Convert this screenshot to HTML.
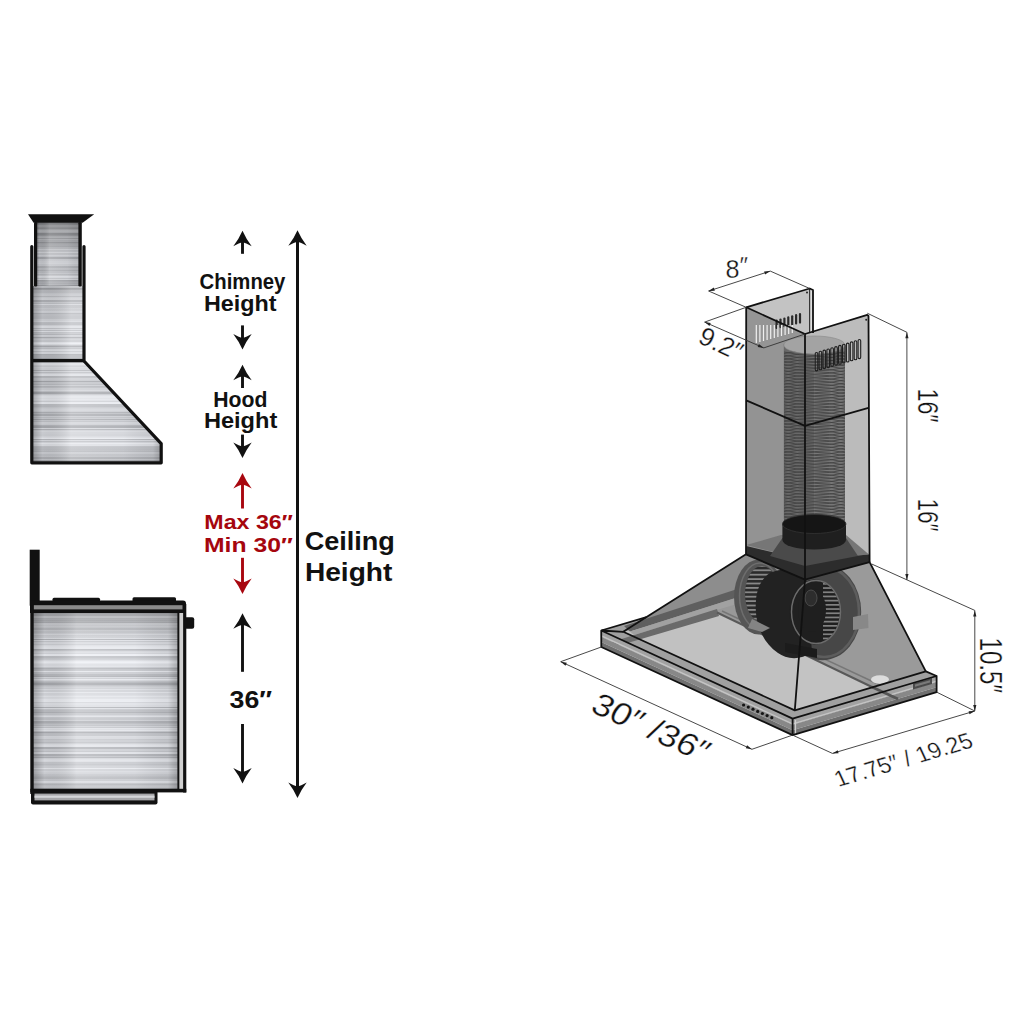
<!DOCTYPE html><html><head><meta charset="utf-8"><style>
html,body{margin:0;padding:0;background:#fff;width:1024px;height:1024px;overflow:hidden}
svg{display:block}
text{font-family:"Liberation Sans",sans-serif}
.lb{font-weight:bold;fill:#111}
.rd{font-weight:bold;fill:#a5060e}
.dm{fill:#111;font-weight:normal;stroke:#fff;stroke-width:0.3px}
</style></head><body>
<svg width="1024" height="1024" viewBox="0 0 1024 1024">
<defs>
<linearGradient id="hg" x1="0" x2="1" y1="0" y2="0">
<stop offset="0" stop-color="#000" stop-opacity="0.28"/>
<stop offset="0.08" stop-color="#000" stop-opacity="0.05"/>
<stop offset="0.3" stop-color="#fff" stop-opacity="0.22"/>
<stop offset="0.7" stop-color="#fff" stop-opacity="0.08"/>
<stop offset="0.93" stop-color="#000" stop-opacity="0.06"/>
<stop offset="1" stop-color="#000" stop-opacity="0.25"/>
</linearGradient>
<linearGradient id="vg2" x1="0" x2="0" y1="0" y2="1">
<stop offset="0" stop-color="#000" stop-opacity="0.3"/>
<stop offset="0.6" stop-color="#000" stop-opacity="0.0"/>
<stop offset="1" stop-color="#000" stop-opacity="0.05"/>
</linearGradient>
<linearGradient id="vg" x1="0" x2="0" y1="0" y2="1">
<stop offset="0" stop-color="#000" stop-opacity="0.22"/>
<stop offset="0.15" stop-color="#000" stop-opacity="0.0"/>
<stop offset="0.9" stop-color="#000" stop-opacity="0.0"/>
<stop offset="1" stop-color="#000" stop-opacity="0.12"/>
</linearGradient>
<clipPath id="hoodclip"><path d="M32,286 L32,462.8 L161.4,462.8 L161.4,443.3 L84,360.5 L84,286 Z"/></clipPath>
</defs>
<rect width="1024" height="1024" fill="#fff"/>

<g><rect x="36" y="222.0" width="45" height="1" fill="rgb(196,198,203)"/><rect x="36" y="223.0" width="45" height="1" fill="rgb(163,165,170)"/><rect x="36" y="224.0" width="45" height="1" fill="rgb(177,179,184)"/><rect x="36" y="225.0" width="45" height="1" fill="rgb(202,204,209)"/><rect x="36" y="226.0" width="45" height="1" fill="rgb(201,203,208)"/><rect x="36" y="227.0" width="45" height="1" fill="rgb(185,187,192)"/><rect x="36" y="228.0" width="45" height="1" fill="rgb(175,177,182)"/><rect x="36" y="229.0" width="45" height="1" fill="rgb(201,203,208)"/><rect x="36" y="230.0" width="45" height="2" fill="rgb(219,221,226)"/><rect x="36" y="232.0" width="45" height="1" fill="rgb(205,207,212)"/><rect x="36" y="233.0" width="45" height="2" fill="rgb(165,167,172)"/><rect x="36" y="235.0" width="45" height="1" fill="rgb(177,179,184)"/><rect x="36" y="236.0" width="45" height="1" fill="rgb(200,202,207)"/><rect x="36" y="237.0" width="45" height="1" fill="rgb(205,207,212)"/><rect x="36" y="238.0" width="45" height="1" fill="rgb(175,177,182)"/><rect x="36" y="239.0" width="45" height="1" fill="rgb(205,207,212)"/><rect x="36" y="240.0" width="45" height="2" fill="rgb(191,193,198)"/><rect x="36" y="242.0" width="45" height="1" fill="rgb(163,165,170)"/><rect x="36" y="243.0" width="45" height="1" fill="rgb(181,183,188)"/><rect x="36" y="244.0" width="45" height="2" fill="rgb(186,188,193)"/><rect x="36" y="246.0" width="45" height="1" fill="rgb(178,180,185)"/><rect x="36" y="247.0" width="45" height="2" fill="rgb(194,196,201)"/><rect x="36" y="249.0" width="45" height="1" fill="rgb(215,217,222)"/><rect x="36" y="250.0" width="45" height="1" fill="rgb(197,199,204)"/><rect x="36" y="251.0" width="45" height="1" fill="rgb(199,201,206)"/><rect x="36" y="252.0" width="45" height="1" fill="rgb(217,219,224)"/><rect x="36" y="253.0" width="45" height="2" fill="rgb(194,196,201)"/><rect x="36" y="255.0" width="45" height="1" fill="rgb(209,211,216)"/><rect x="36" y="256.0" width="45" height="1" fill="rgb(196,198,203)"/><rect x="36" y="257.0" width="45" height="2" fill="rgb(163,165,170)"/><rect x="36" y="259.0" width="45" height="2" fill="rgb(194,196,201)"/><rect x="36" y="261.0" width="45" height="2" fill="rgb(198,200,205)"/><rect x="36" y="263.0" width="45" height="1" fill="rgb(202,204,209)"/><rect x="36" y="264.0" width="45" height="2" fill="rgb(193,195,200)"/><rect x="36" y="266.0" width="45" height="2" fill="rgb(170,172,177)"/><rect x="36" y="268.0" width="45" height="1" fill="rgb(186,188,193)"/><rect x="36" y="269.0" width="45" height="1" fill="rgb(185,187,192)"/><rect x="36" y="270.0" width="45" height="1" fill="rgb(172,174,179)"/><rect x="36" y="271.0" width="45" height="2" fill="rgb(187,189,194)"/><rect x="36" y="273.0" width="45" height="1" fill="rgb(198,200,205)"/><rect x="36" y="274.0" width="45" height="1" fill="rgb(182,184,189)"/><rect x="36" y="275.0" width="45" height="1" fill="rgb(196,198,203)"/><rect x="36" y="276.0" width="45" height="1" fill="rgb(219,221,226)"/><rect x="36" y="277.0" width="45" height="1" fill="rgb(214,216,221)"/><rect x="36" y="278.0" width="45" height="1" fill="rgb(190,192,197)"/><rect x="36" y="279.0" width="45" height="1" fill="rgb(213,215,220)"/><rect x="36" y="280.0" width="45" height="1" fill="rgb(162,164,169)"/><rect x="36" y="281.0" width="45" height="1" fill="rgb(171,173,178)"/><rect x="36" y="282.0" width="45" height="1" fill="rgb(177,179,184)"/><rect x="36" y="283.0" width="45" height="1" fill="rgb(173,175,180)"/><rect x="36" y="284.0" width="45" height="1" fill="rgb(182,184,189)"/><rect x="36" y="285.0" width="45" height="1" fill="rgb(155,157,162)"/><rect x="36" y="286.0" width="45" height="2" fill="rgb(193,195,200)"/><rect x="36" y="222" width="45" height="66" fill="url(#hg)"/><rect x="36" y="222" width="45" height="66" fill="url(#vg2)"/></g>
<g clip-path="url(#hoodclip)"><rect x="32" y="286.0" width="130" height="1" fill="rgb(219,221,226)"/><rect x="32" y="287.0" width="130" height="1" fill="rgb(212,214,219)"/><rect x="32" y="288.0" width="130" height="1" fill="rgb(170,172,177)"/><rect x="32" y="289.0" width="130" height="1" fill="rgb(180,182,187)"/><rect x="32" y="290.0" width="130" height="1" fill="rgb(204,206,211)"/><rect x="32" y="291.0" width="130" height="2" fill="rgb(203,205,210)"/><rect x="32" y="293.0" width="130" height="1" fill="rgb(215,217,222)"/><rect x="32" y="294.0" width="130" height="1" fill="rgb(219,221,226)"/><rect x="32" y="295.0" width="130" height="1" fill="rgb(219,221,226)"/><rect x="32" y="296.0" width="130" height="1" fill="rgb(197,199,204)"/><rect x="32" y="297.0" width="130" height="1" fill="rgb(218,220,225)"/><rect x="32" y="298.0" width="130" height="2" fill="rgb(223,225,230)"/><rect x="32" y="300.0" width="130" height="2" fill="rgb(185,187,192)"/><rect x="32" y="302.0" width="130" height="1" fill="rgb(210,212,217)"/><rect x="32" y="303.0" width="130" height="1" fill="rgb(198,200,205)"/><rect x="32" y="304.0" width="130" height="1" fill="rgb(226,228,233)"/><rect x="32" y="305.0" width="130" height="1" fill="rgb(200,202,207)"/><rect x="32" y="306.0" width="130" height="1" fill="rgb(200,202,207)"/><rect x="32" y="307.0" width="130" height="1" fill="rgb(199,201,206)"/><rect x="32" y="308.0" width="130" height="1" fill="rgb(208,210,215)"/><rect x="32" y="309.0" width="130" height="2" fill="rgb(202,204,209)"/><rect x="32" y="311.0" width="130" height="1" fill="rgb(212,214,219)"/><rect x="32" y="312.0" width="130" height="1" fill="rgb(208,210,215)"/><rect x="32" y="313.0" width="130" height="1" fill="rgb(182,184,189)"/><rect x="32" y="314.0" width="130" height="2" fill="rgb(195,197,202)"/><rect x="32" y="316.0" width="130" height="2" fill="rgb(193,195,200)"/><rect x="32" y="318.0" width="130" height="1" fill="rgb(194,196,201)"/><rect x="32" y="319.0" width="130" height="2" fill="rgb(208,210,215)"/><rect x="32" y="321.0" width="130" height="1" fill="rgb(216,218,223)"/><rect x="32" y="322.0" width="130" height="1" fill="rgb(192,194,199)"/><rect x="32" y="323.0" width="130" height="2" fill="rgb(190,192,197)"/><rect x="32" y="325.0" width="130" height="1" fill="rgb(211,213,218)"/><rect x="32" y="326.0" width="130" height="2" fill="rgb(224,226,231)"/><rect x="32" y="328.0" width="130" height="1" fill="rgb(193,195,200)"/><rect x="32" y="329.0" width="130" height="1" fill="rgb(220,222,227)"/><rect x="32" y="330.0" width="130" height="1" fill="rgb(192,194,199)"/><rect x="32" y="331.0" width="130" height="1" fill="rgb(224,226,231)"/><rect x="32" y="332.0" width="130" height="1" fill="rgb(195,197,202)"/><rect x="32" y="333.0" width="130" height="1" fill="rgb(200,202,207)"/><rect x="32" y="334.0" width="130" height="1" fill="rgb(185,187,192)"/><rect x="32" y="335.0" width="130" height="1" fill="rgb(213,215,220)"/><rect x="32" y="336.0" width="130" height="1" fill="rgb(209,211,216)"/><rect x="32" y="337.0" width="130" height="1" fill="rgb(174,176,181)"/><rect x="32" y="338.0" width="130" height="1" fill="rgb(201,203,208)"/><rect x="32" y="339.0" width="130" height="1" fill="rgb(209,211,216)"/><rect x="32" y="340.0" width="130" height="2" fill="rgb(202,204,209)"/><rect x="32" y="342.0" width="130" height="1" fill="rgb(226,228,233)"/><rect x="32" y="343.0" width="130" height="1" fill="rgb(235,237,242)"/><rect x="32" y="344.0" width="130" height="1" fill="rgb(220,222,227)"/><rect x="32" y="345.0" width="130" height="1" fill="rgb(194,196,201)"/><rect x="32" y="346.0" width="130" height="1" fill="rgb(171,173,178)"/><rect x="32" y="347.0" width="130" height="1" fill="rgb(199,201,206)"/><rect x="32" y="348.0" width="130" height="1" fill="rgb(192,194,199)"/><rect x="32" y="349.0" width="130" height="1" fill="rgb(216,218,223)"/><rect x="32" y="350.0" width="130" height="1" fill="rgb(221,223,228)"/><rect x="32" y="351.0" width="130" height="1" fill="rgb(198,200,205)"/><rect x="32" y="352.0" width="130" height="1" fill="rgb(217,219,224)"/><rect x="32" y="353.0" width="130" height="1" fill="rgb(216,218,223)"/><rect x="32" y="354.0" width="130" height="1" fill="rgb(175,177,182)"/><rect x="32" y="355.0" width="130" height="2" fill="rgb(181,183,188)"/><rect x="32" y="357.0" width="130" height="1" fill="rgb(182,184,189)"/><rect x="32" y="358.0" width="130" height="1" fill="rgb(159,161,166)"/><rect x="32" y="359.0" width="130" height="1" fill="rgb(175,177,182)"/><rect x="32" y="360.0" width="130" height="1" fill="rgb(192,194,199)"/><rect x="32" y="361.0" width="130" height="1" fill="rgb(194,196,201)"/><rect x="32" y="362.0" width="130" height="1" fill="rgb(196,198,203)"/><rect x="32" y="363.0" width="130" height="2" fill="rgb(223,225,230)"/><rect x="32" y="365.0" width="130" height="1" fill="rgb(210,212,217)"/><rect x="32" y="366.0" width="130" height="1" fill="rgb(203,205,210)"/><rect x="32" y="367.0" width="130" height="1" fill="rgb(215,217,222)"/><rect x="32" y="368.0" width="130" height="2" fill="rgb(211,213,218)"/><rect x="32" y="370.0" width="130" height="1" fill="rgb(181,183,188)"/><rect x="32" y="371.0" width="130" height="1" fill="rgb(215,217,222)"/><rect x="32" y="372.0" width="130" height="1" fill="rgb(190,192,197)"/><rect x="32" y="373.0" width="130" height="1" fill="rgb(210,212,217)"/><rect x="32" y="374.0" width="130" height="2" fill="rgb(224,226,231)"/><rect x="32" y="376.0" width="130" height="1" fill="rgb(182,184,189)"/><rect x="32" y="377.0" width="130" height="1" fill="rgb(185,187,192)"/><rect x="32" y="378.0" width="130" height="2" fill="rgb(203,205,210)"/><rect x="32" y="380.0" width="130" height="1" fill="rgb(198,200,205)"/><rect x="32" y="381.0" width="130" height="1" fill="rgb(164,166,171)"/><rect x="32" y="382.0" width="130" height="2" fill="rgb(194,196,201)"/><rect x="32" y="384.0" width="130" height="1" fill="rgb(183,185,190)"/><rect x="32" y="385.0" width="130" height="1" fill="rgb(203,205,210)"/><rect x="32" y="386.0" width="130" height="1" fill="rgb(180,182,187)"/><rect x="32" y="387.0" width="130" height="1" fill="rgb(187,189,194)"/><rect x="32" y="388.0" width="130" height="2" fill="rgb(204,206,211)"/><rect x="32" y="390.0" width="130" height="1" fill="rgb(213,215,220)"/><rect x="32" y="391.0" width="130" height="1" fill="rgb(193,195,200)"/><rect x="32" y="392.0" width="130" height="2" fill="rgb(168,170,175)"/><rect x="32" y="394.0" width="130" height="1" fill="rgb(201,203,208)"/><rect x="32" y="395.0" width="130" height="1" fill="rgb(220,222,227)"/><rect x="32" y="396.0" width="130" height="2" fill="rgb(228,230,235)"/><rect x="32" y="398.0" width="130" height="1" fill="rgb(223,225,230)"/><rect x="32" y="399.0" width="130" height="1" fill="rgb(228,230,235)"/><rect x="32" y="400.0" width="130" height="1" fill="rgb(222,224,229)"/><rect x="32" y="401.0" width="130" height="1" fill="rgb(208,210,215)"/><rect x="32" y="402.0" width="130" height="1" fill="rgb(232,234,239)"/><rect x="32" y="403.0" width="130" height="1" fill="rgb(233,235,240)"/><rect x="32" y="404.0" width="130" height="2" fill="rgb(188,190,195)"/><rect x="32" y="406.0" width="130" height="1" fill="rgb(188,190,195)"/><rect x="32" y="407.0" width="130" height="1" fill="rgb(199,201,206)"/><rect x="32" y="408.0" width="130" height="1" fill="rgb(207,209,214)"/><rect x="32" y="409.0" width="130" height="2" fill="rgb(211,213,218)"/><rect x="32" y="411.0" width="130" height="1" fill="rgb(203,205,210)"/><rect x="32" y="412.0" width="130" height="1" fill="rgb(176,178,183)"/><rect x="32" y="413.0" width="130" height="1" fill="rgb(192,194,199)"/><rect x="32" y="414.0" width="130" height="2" fill="rgb(173,175,180)"/><rect x="32" y="416.0" width="130" height="1" fill="rgb(204,206,211)"/><rect x="32" y="417.0" width="130" height="1" fill="rgb(191,193,198)"/><rect x="32" y="418.0" width="130" height="1" fill="rgb(202,204,209)"/><rect x="32" y="419.0" width="130" height="1" fill="rgb(172,174,179)"/><rect x="32" y="420.0" width="130" height="1" fill="rgb(203,205,210)"/><rect x="32" y="421.0" width="130" height="1" fill="rgb(192,194,199)"/><rect x="32" y="422.0" width="130" height="2" fill="rgb(211,213,218)"/><rect x="32" y="424.0" width="130" height="1" fill="rgb(206,208,213)"/><rect x="32" y="425.0" width="130" height="1" fill="rgb(180,182,187)"/><rect x="32" y="426.0" width="130" height="2" fill="rgb(171,173,178)"/><rect x="32" y="428.0" width="130" height="1" fill="rgb(217,219,224)"/><rect x="32" y="429.0" width="130" height="1" fill="rgb(178,180,185)"/><rect x="32" y="430.0" width="130" height="1" fill="rgb(209,211,216)"/><rect x="32" y="431.0" width="130" height="1" fill="rgb(217,219,224)"/><rect x="32" y="432.0" width="130" height="2" fill="rgb(211,213,218)"/><rect x="32" y="434.0" width="130" height="2" fill="rgb(209,211,216)"/><rect x="32" y="436.0" width="130" height="1" fill="rgb(216,218,223)"/><rect x="32" y="437.0" width="130" height="1" fill="rgb(223,225,230)"/><rect x="32" y="438.0" width="130" height="1" fill="rgb(233,235,240)"/><rect x="32" y="439.0" width="130" height="1" fill="rgb(184,186,191)"/><rect x="32" y="440.0" width="130" height="1" fill="rgb(219,221,226)"/><rect x="32" y="441.0" width="130" height="1" fill="rgb(194,196,201)"/><rect x="32" y="442.0" width="130" height="1" fill="rgb(214,216,221)"/><rect x="32" y="443.0" width="130" height="1" fill="rgb(232,234,239)"/><rect x="32" y="444.0" width="130" height="2" fill="rgb(222,224,229)"/><rect x="32" y="446.0" width="130" height="1" fill="rgb(195,197,202)"/><rect x="32" y="447.0" width="130" height="2" fill="rgb(192,194,199)"/><rect x="32" y="449.0" width="130" height="1" fill="rgb(191,193,198)"/><rect x="32" y="450.0" width="130" height="1" fill="rgb(194,196,201)"/><rect x="32" y="451.0" width="130" height="1" fill="rgb(189,191,196)"/><rect x="32" y="452.0" width="130" height="2" fill="rgb(209,211,216)"/><rect x="32" y="454.0" width="130" height="2" fill="rgb(197,199,204)"/><rect x="32" y="456.0" width="130" height="1" fill="rgb(201,203,208)"/><rect x="32" y="457.0" width="130" height="2" fill="rgb(180,182,187)"/><rect x="32" y="459.0" width="130" height="1" fill="rgb(204,206,211)"/><rect x="32" y="460.0" width="130" height="1" fill="rgb(170,172,177)"/><rect x="32" y="461.0" width="130" height="1" fill="rgb(180,182,187)"/><rect x="32" y="462.0" width="130" height="1" fill="rgb(193,195,200)"/><rect x="32" y="463.0" width="130" height="1" fill="rgb(196,198,203)"/><rect x="32" y="286" width="130" height="178" fill="url(#hg)"/><rect x="32" y="286" width="130" height="178" fill="url(#vg)" opacity="0.5"/></g>
<path d="M28,214.2 L94.2,214.2 L82.6,222.8 L33.6,222.8 Z" fill="#111"/>
<rect x="34" y="222" width="3.2" height="64.5" rx="1.2" fill="#111"/>
<rect x="78.4" y="222" width="3.4" height="64.5" rx="1.2" fill="#111"/>
<path d="M31.8,246.5 L31.8,462.8 L161.2,462.8 L161.2,443.6 L84,361 L84,246.5" fill="none" stroke="#111" stroke-width="3.2" stroke-linejoin="round" stroke-linecap="round"/>
<line x1="31.8" y1="360.6" x2="84" y2="360.6" stroke="#111" stroke-width="3.2"/>
<g><rect x="33" y="613.0" width="145" height="1" fill="rgb(194,196,201)"/><rect x="33" y="614.0" width="145" height="2" fill="rgb(206,208,213)"/><rect x="33" y="616.0" width="145" height="2" fill="rgb(232,234,239)"/><rect x="33" y="618.0" width="145" height="1" fill="rgb(206,208,213)"/><rect x="33" y="619.0" width="145" height="1" fill="rgb(208,210,215)"/><rect x="33" y="620.0" width="145" height="1" fill="rgb(198,200,205)"/><rect x="33" y="621.0" width="145" height="1" fill="rgb(205,207,212)"/><rect x="33" y="622.0" width="145" height="1" fill="rgb(194,196,201)"/><rect x="33" y="623.0" width="145" height="2" fill="rgb(228,230,235)"/><rect x="33" y="625.0" width="145" height="1" fill="rgb(220,222,227)"/><rect x="33" y="626.0" width="145" height="1" fill="rgb(224,226,231)"/><rect x="33" y="627.0" width="145" height="1" fill="rgb(215,217,222)"/><rect x="33" y="628.0" width="145" height="1" fill="rgb(198,200,205)"/><rect x="33" y="629.0" width="145" height="1" fill="rgb(197,199,204)"/><rect x="33" y="630.0" width="145" height="1" fill="rgb(215,217,222)"/><rect x="33" y="631.0" width="145" height="1" fill="rgb(206,208,213)"/><rect x="33" y="632.0" width="145" height="1" fill="rgb(204,206,211)"/><rect x="33" y="633.0" width="145" height="1" fill="rgb(212,214,219)"/><rect x="33" y="634.0" width="145" height="1" fill="rgb(223,225,230)"/><rect x="33" y="635.0" width="145" height="1" fill="rgb(207,209,214)"/><rect x="33" y="636.0" width="145" height="2" fill="rgb(209,211,216)"/><rect x="33" y="638.0" width="145" height="1" fill="rgb(222,224,229)"/><rect x="33" y="639.0" width="145" height="1" fill="rgb(177,179,184)"/><rect x="33" y="640.0" width="145" height="1" fill="rgb(223,225,230)"/><rect x="33" y="641.0" width="145" height="1" fill="rgb(198,200,205)"/><rect x="33" y="642.0" width="145" height="1" fill="rgb(216,218,223)"/><rect x="33" y="643.0" width="145" height="1" fill="rgb(218,220,225)"/><rect x="33" y="644.0" width="145" height="1" fill="rgb(206,208,213)"/><rect x="33" y="645.0" width="145" height="1" fill="rgb(222,224,229)"/><rect x="33" y="646.0" width="145" height="1" fill="rgb(228,230,235)"/><rect x="33" y="647.0" width="145" height="2" fill="rgb(231,233,238)"/><rect x="33" y="649.0" width="145" height="1" fill="rgb(183,185,190)"/><rect x="33" y="650.0" width="145" height="1" fill="rgb(196,198,203)"/><rect x="33" y="651.0" width="145" height="1" fill="rgb(216,218,223)"/><rect x="33" y="652.0" width="145" height="1" fill="rgb(221,223,228)"/><rect x="33" y="653.0" width="145" height="1" fill="rgb(214,216,221)"/><rect x="33" y="654.0" width="145" height="2" fill="rgb(236,238,243)"/><rect x="33" y="656.0" width="145" height="2" fill="rgb(192,194,199)"/><rect x="33" y="658.0" width="145" height="1" fill="rgb(201,203,208)"/><rect x="33" y="659.0" width="145" height="1" fill="rgb(207,209,214)"/><rect x="33" y="660.0" width="145" height="1" fill="rgb(222,224,229)"/><rect x="33" y="661.0" width="145" height="1" fill="rgb(234,236,241)"/><rect x="33" y="662.0" width="145" height="1" fill="rgb(238,240,245)"/><rect x="33" y="663.0" width="145" height="1" fill="rgb(229,231,236)"/><rect x="33" y="664.0" width="145" height="2" fill="rgb(221,223,228)"/><rect x="33" y="666.0" width="145" height="1" fill="rgb(225,227,232)"/><rect x="33" y="667.0" width="145" height="1" fill="rgb(205,207,212)"/><rect x="33" y="668.0" width="145" height="1" fill="rgb(182,184,189)"/><rect x="33" y="669.0" width="145" height="1" fill="rgb(194,196,201)"/><rect x="33" y="670.0" width="145" height="1" fill="rgb(197,199,204)"/><rect x="33" y="671.0" width="145" height="1" fill="rgb(229,231,236)"/><rect x="33" y="672.0" width="145" height="2" fill="rgb(203,205,210)"/><rect x="33" y="674.0" width="145" height="2" fill="rgb(185,187,192)"/><rect x="33" y="676.0" width="145" height="1" fill="rgb(177,179,184)"/><rect x="33" y="677.0" width="145" height="1" fill="rgb(217,219,224)"/><rect x="33" y="678.0" width="145" height="1" fill="rgb(202,204,209)"/><rect x="33" y="679.0" width="145" height="1" fill="rgb(230,232,237)"/><rect x="33" y="680.0" width="145" height="1" fill="rgb(213,215,220)"/><rect x="33" y="681.0" width="145" height="1" fill="rgb(195,197,202)"/><rect x="33" y="682.0" width="145" height="1" fill="rgb(183,185,190)"/><rect x="33" y="683.0" width="145" height="2" fill="rgb(169,171,176)"/><rect x="33" y="685.0" width="145" height="1" fill="rgb(191,193,198)"/><rect x="33" y="686.0" width="145" height="1" fill="rgb(203,205,210)"/><rect x="33" y="687.0" width="145" height="1" fill="rgb(210,212,217)"/><rect x="33" y="688.0" width="145" height="1" fill="rgb(206,208,213)"/><rect x="33" y="689.0" width="145" height="1" fill="rgb(222,224,229)"/><rect x="33" y="690.0" width="145" height="2" fill="rgb(210,212,217)"/><rect x="33" y="692.0" width="145" height="1" fill="rgb(229,231,236)"/><rect x="33" y="693.0" width="145" height="2" fill="rgb(215,217,222)"/><rect x="33" y="695.0" width="145" height="1" fill="rgb(220,222,227)"/><rect x="33" y="696.0" width="145" height="1" fill="rgb(229,231,236)"/><rect x="33" y="697.0" width="145" height="1" fill="rgb(220,222,227)"/><rect x="33" y="698.0" width="145" height="1" fill="rgb(223,225,230)"/><rect x="33" y="699.0" width="145" height="2" fill="rgb(233,235,240)"/><rect x="33" y="701.0" width="145" height="1" fill="rgb(234,236,241)"/><rect x="33" y="702.0" width="145" height="1" fill="rgb(213,215,220)"/><rect x="33" y="703.0" width="145" height="2" fill="rgb(225,227,232)"/><rect x="33" y="705.0" width="145" height="2" fill="rgb(221,223,228)"/><rect x="33" y="707.0" width="145" height="1" fill="rgb(178,180,185)"/><rect x="33" y="708.0" width="145" height="1" fill="rgb(223,225,230)"/><rect x="33" y="709.0" width="145" height="1" fill="rgb(198,200,205)"/><rect x="33" y="710.0" width="145" height="2" fill="rgb(191,193,198)"/><rect x="33" y="712.0" width="145" height="1" fill="rgb(178,180,185)"/><rect x="33" y="713.0" width="145" height="2" fill="rgb(198,200,205)"/><rect x="33" y="715.0" width="145" height="1" fill="rgb(213,215,220)"/><rect x="33" y="716.0" width="145" height="1" fill="rgb(225,227,232)"/><rect x="33" y="717.0" width="145" height="1" fill="rgb(200,202,207)"/><rect x="33" y="718.0" width="145" height="2" fill="rgb(195,197,202)"/><rect x="33" y="720.0" width="145" height="1" fill="rgb(208,210,215)"/><rect x="33" y="721.0" width="145" height="2" fill="rgb(177,179,184)"/><rect x="33" y="723.0" width="145" height="1" fill="rgb(187,189,194)"/><rect x="33" y="724.0" width="145" height="1" fill="rgb(198,200,205)"/><rect x="33" y="725.0" width="145" height="1" fill="rgb(191,193,198)"/><rect x="33" y="726.0" width="145" height="1" fill="rgb(211,213,218)"/><rect x="33" y="727.0" width="145" height="1" fill="rgb(195,197,202)"/><rect x="33" y="728.0" width="145" height="1" fill="rgb(226,228,233)"/><rect x="33" y="729.0" width="145" height="1" fill="rgb(219,221,226)"/><rect x="33" y="730.0" width="145" height="1" fill="rgb(228,230,235)"/><rect x="33" y="731.0" width="145" height="1" fill="rgb(201,203,208)"/><rect x="33" y="732.0" width="145" height="1" fill="rgb(172,174,179)"/><rect x="33" y="733.0" width="145" height="1" fill="rgb(193,195,200)"/><rect x="33" y="734.0" width="145" height="2" fill="rgb(196,198,203)"/><rect x="33" y="736.0" width="145" height="1" fill="rgb(217,219,224)"/><rect x="33" y="737.0" width="145" height="2" fill="rgb(215,217,222)"/><rect x="33" y="739.0" width="145" height="1" fill="rgb(198,200,205)"/><rect x="33" y="740.0" width="145" height="2" fill="rgb(204,206,211)"/><rect x="33" y="742.0" width="145" height="1" fill="rgb(193,195,200)"/><rect x="33" y="743.0" width="145" height="1" fill="rgb(208,210,215)"/><rect x="33" y="744.0" width="145" height="1" fill="rgb(223,225,230)"/><rect x="33" y="745.0" width="145" height="1" fill="rgb(228,230,235)"/><rect x="33" y="746.0" width="145" height="1" fill="rgb(227,229,234)"/><rect x="33" y="747.0" width="145" height="2" fill="rgb(179,181,186)"/><rect x="33" y="749.0" width="145" height="2" fill="rgb(205,207,212)"/><rect x="33" y="751.0" width="145" height="1" fill="rgb(195,197,202)"/><rect x="33" y="752.0" width="145" height="2" fill="rgb(223,225,230)"/><rect x="33" y="754.0" width="145" height="2" fill="rgb(178,180,185)"/><rect x="33" y="756.0" width="145" height="1" fill="rgb(197,199,204)"/><rect x="33" y="757.0" width="145" height="1" fill="rgb(179,181,186)"/><rect x="33" y="758.0" width="145" height="1" fill="rgb(213,215,220)"/><rect x="33" y="759.0" width="145" height="1" fill="rgb(223,225,230)"/><rect x="33" y="760.0" width="145" height="1" fill="rgb(226,228,233)"/><rect x="33" y="761.0" width="145" height="1" fill="rgb(221,223,228)"/><rect x="33" y="762.0" width="145" height="2" fill="rgb(201,203,208)"/><rect x="33" y="764.0" width="145" height="1" fill="rgb(195,197,202)"/><rect x="33" y="765.0" width="145" height="1" fill="rgb(203,205,210)"/><rect x="33" y="766.0" width="145" height="2" fill="rgb(209,211,216)"/><rect x="33" y="768.0" width="145" height="1" fill="rgb(232,234,239)"/><rect x="33" y="769.0" width="145" height="1" fill="rgb(209,211,216)"/><rect x="33" y="770.0" width="145" height="1" fill="rgb(209,211,216)"/><rect x="33" y="771.0" width="145" height="1" fill="rgb(218,220,225)"/><rect x="33" y="772.0" width="145" height="2" fill="rgb(213,215,220)"/><rect x="33" y="774.0" width="145" height="1" fill="rgb(204,206,211)"/><rect x="33" y="775.0" width="145" height="1" fill="rgb(203,205,210)"/><rect x="33" y="776.0" width="145" height="1" fill="rgb(198,200,205)"/><rect x="33" y="777.0" width="145" height="1" fill="rgb(194,196,201)"/><rect x="33" y="778.0" width="145" height="1" fill="rgb(195,197,202)"/><rect x="33" y="779.0" width="145" height="2" fill="rgb(213,215,220)"/><rect x="33" y="781.0" width="145" height="2" fill="rgb(236,238,243)"/><rect x="33" y="783.0" width="145" height="1" fill="rgb(213,215,220)"/><rect x="33" y="784.0" width="145" height="1" fill="rgb(201,203,208)"/><rect x="33" y="785.0" width="145" height="1" fill="rgb(214,216,221)"/><rect x="33" y="786.0" width="145" height="1" fill="rgb(220,222,227)"/><rect x="33" y="787.0" width="145" height="1" fill="rgb(219,221,226)"/><rect x="33" y="788.0" width="145" height="1" fill="rgb(188,190,195)"/><rect x="33" y="789.0" width="145" height="1" fill="rgb(194,196,201)"/><rect x="33" y="613" width="145" height="177" fill="url(#hg)"/><rect x="33" y="613" width="145" height="177" fill="url(#vg)"/></g>
<rect x="179.4" y="613" width="3.8" height="177" fill="#d0d0d0"/>
<rect x="29.7" y="549.7" width="10" height="56" fill="#111"/>
<rect x="52.5" y="597.8" width="47.5" height="5" rx="1.5" fill="#111"/>
<rect x="132.5" y="597.2" width="43.5" height="5" rx="1.5" fill="#111"/>
<path d="M30,600.6 L183,600.6 Q186,600.6 186,603.6 L186,613 L30,613 Z" fill="#111"/>
<rect x="33.5" y="605.2" width="149" height="4.2" fill="#8a8a8a"/>
<rect x="30.3" y="604" width="3.4" height="190" fill="#111"/>
<rect x="177.4" y="612" width="2" height="180" fill="#111"/>
<rect x="183.1" y="604" width="3.2" height="188.5" fill="#111"/>
<rect x="30.3" y="788.8" width="156" height="3.6" fill="#111"/>
<rect x="184.4" y="617.3" width="9.8" height="11.5" rx="2" fill="#111"/>
<rect x="31" y="790.5" width="126.5" height="14" rx="2" fill="#111"/>
<rect x="34.5" y="793.6" width="120" height="6.8" fill="#a5a5a8"/>
<rect x="34.5" y="795.6" width="120" height="2.2" fill="#d4d5d8"/>
<path d="M242.5,230.8 Q246.0,238.8 251.7,246.3 Q245.5,242.8 242.5,242.3 Q239.5,242.8 233.3,246.3 Q239.0,238.8 242.5,230.8 Z" fill="#111"/><rect x="241.05" y="238.8" width="2.9" height="15.0" fill="#111"/>
<path d="M242.5,349.5 Q246.0,341.5 251.7,334.0 Q245.5,337.5 242.5,338.0 Q239.5,337.5 233.3,334.0 Q239.0,341.5 242.5,349.5 Z" fill="#111"/><rect x="241.05" y="325.4" width="2.9" height="16.100000000000023" fill="#111"/>
<path d="M242.5,364.8 Q246.0,372.8 251.7,380.3 Q245.5,376.8 242.5,376.3 Q239.5,376.8 233.3,380.3 Q239.0,372.8 242.5,364.8 Z" fill="#111"/><rect x="241.05" y="372.8" width="2.9" height="15.199999999999989" fill="#111"/>
<path d="M242.5,458 Q246.0,450 251.7,442.5 Q245.5,446.0 242.5,446.5 Q239.5,446.0 233.3,442.5 Q239.0,450 242.5,458 Z" fill="#111"/><rect x="241.05" y="434.6" width="2.9" height="15.399999999999977" fill="#111"/>
<path d="M242.5,473 Q246.0,481 251.7,488.5 Q245.5,485.0 242.5,484.5 Q239.5,485.0 233.3,488.5 Q239.0,481 242.5,473 Z" fill="#a8070f"/><rect x="241.05" y="481" width="2.9" height="27.5" fill="#a8070f"/>
<path d="M242.5,594 Q246.0,586 251.7,578.5 Q245.5,582.0 242.5,582.5 Q239.5,582.0 233.3,578.5 Q239.0,586 242.5,594 Z" fill="#a8070f"/><rect x="241.05" y="557.8" width="2.9" height="28.200000000000045" fill="#a8070f"/>
<path d="M242.5,613.3 Q246.0,621.3 251.7,628.8 Q245.5,625.3 242.5,624.8 Q239.5,625.3 233.3,628.8 Q239.0,621.3 242.5,613.3 Z" fill="#111"/><rect x="241.05" y="621.3" width="2.9" height="50.5" fill="#111"/>
<path d="M242.5,783.5 Q246.0,775.5 251.7,768.0 Q245.5,771.5 242.5,772.0 Q239.5,771.5 233.3,768.0 Q239.0,775.5 242.5,783.5 Z" fill="#111"/><rect x="241.05" y="724" width="2.9" height="51.5" fill="#111"/>
<path d="M297.5,230.2 Q301.0,238.2 306.7,245.7 Q300.5,242.2 297.5,241.7 Q294.5,242.2 288.3,245.7 Q294.0,238.2 297.5,230.2 Z" fill="#111"/><path d="M297.5,798 Q301.0,790 306.7,782.5 Q300.5,786.0 297.5,786.5 Q294.5,786.0 288.3,782.5 Q294.0,790 297.5,798 Z" fill="#111"/>
<rect x="296" y="240" width="3" height="548" fill="#111"/>
<text class="lb" x="199.6" y="288.8" font-size="21.5" textLength="85.8" lengthAdjust="spacingAndGlyphs">Chimney</text>
<text class="lb" x="203.9" y="310.8" font-size="21.5" textLength="72.6" lengthAdjust="spacingAndGlyphs">Height</text>
<text class="lb" x="213.3" y="406.8" font-size="21.5" textLength="54.2" lengthAdjust="spacingAndGlyphs">Hood</text>
<text class="lb" x="203.9" y="428.4" font-size="21.5" textLength="73.4" lengthAdjust="spacingAndGlyphs">Height</text>
<text class="rd" x="204.3" y="528.6" font-size="20.5" textLength="88.6" lengthAdjust="spacingAndGlyphs">Max 36″</text>
<text class="rd" x="204.0" y="551.5" font-size="20.5" textLength="88.8" lengthAdjust="spacingAndGlyphs">Min 30″</text>
<text class="lb" x="304.7" y="549.6" font-size="26" textLength="90.2" lengthAdjust="spacingAndGlyphs">Ceiling</text>
<text class="lb" x="304.9" y="580.8" font-size="26" textLength="87.5" lengthAdjust="spacingAndGlyphs">Height</text>
<text class="lb" x="229.6" y="707.9" font-size="23" textLength="42.5" lengthAdjust="spacingAndGlyphs">36″</text>
<path d="M601.25,630.5 L745.25,587.9 L936.6,676 L792.6,718.6 Z" fill="#a0a0a0" />
<path d="M746,554.3 L810,537 L869.6,562.1 L925.8,671.3 L794.8,710.4 L623.2,631.8 Z" fill="#a0a0a0" />
<path d="M746,554.3 L810,537 L754.2,592.7 L623.2,631.8 Z" fill="#939393" />
<path d="M623.2,631.8 L717,612.5 L873,687.5 L794.8,710.4 Z" fill="#cdcdcd" />
<path d="M624,626 L745,586.5 L748,594 L630,631.5 Z" fill="#606060" />
<path d="M630,631.5 L748,594 L750,600 L634,635 Z" fill="#aaaaaa" />
<path d="M612,642 L717,609 L719,616 L614,647 Z" fill="#6c6c6c" />
<path d="M717,612.5 L873,687.5" stroke="#5a5a5a" stroke-width="2.2" fill="none"/>
<path d="M722,611 L880,685" stroke="#7a7a7a" stroke-width="1.5" fill="none"/>
<ellipse cx="880" cy="679.5" rx="9" ry="4.2" fill="#e8e8e8"/>
<defs><clipPath id="lw"><ellipse cx="762" cy="594" rx="17" ry="28"/></clipPath><clipPath id="rw"><ellipse cx="815" cy="612" rx="25" ry="31.5"/></clipPath></defs>
<ellipse cx="759" cy="597" rx="25" ry="37.5" fill="#555555"/>
<ellipse cx="760" cy="596" rx="20.5" ry="33" fill="none" stroke="#707070" stroke-width="1.5"/>
<ellipse cx="762" cy="594" rx="17" ry="28" fill="#262626"/>
<g clip-path="url(#lw)"><rect x="744" y="565.0" width="34" height="1.8" fill="#8e8e8e"/><rect x="744" y="569.4" width="34" height="1.8" fill="#8e8e8e"/><rect x="744" y="573.8" width="34" height="1.8" fill="#8e8e8e"/><rect x="744" y="578.2" width="34" height="1.8" fill="#8e8e8e"/><rect x="744" y="582.6" width="34" height="1.8" fill="#8e8e8e"/><rect x="744" y="587.0" width="34" height="1.8" fill="#8e8e8e"/><rect x="744" y="591.4" width="34" height="1.8" fill="#8e8e8e"/><rect x="744" y="595.8" width="34" height="1.8" fill="#8e8e8e"/><rect x="744" y="600.2" width="34" height="1.8" fill="#8e8e8e"/><rect x="744" y="604.6" width="34" height="1.8" fill="#8e8e8e"/><rect x="744" y="609.0" width="34" height="1.8" fill="#8e8e8e"/><rect x="744" y="613.4" width="34" height="1.8" fill="#8e8e8e"/><rect x="744" y="617.8" width="34" height="1.8" fill="#8e8e8e"/></g>
<ellipse cx="822.4" cy="612" rx="38.8" ry="48.3" fill="#464646"/>
<ellipse cx="824" cy="612" rx="35" ry="45" fill="none" stroke="#5e5e5e" stroke-width="2.5"/>
<path d="M770,573 C782,567 800,569 806,575 L812,652 C800,661 786,659 778,653 C762,642 754,622 756,600 C757,588 762,578 770,573 Z" fill="#1c1c1c"/>
<ellipse cx="815" cy="612" rx="25.6" ry="32.5" fill="#1b1b1b"/>
<g clip-path="url(#rw)"><rect x="823" y="583.0" width="20" height="1.7" fill="#858585"/><rect x="823" y="587.2" width="20" height="1.7" fill="#858585"/><rect x="823" y="591.4" width="20" height="1.7" fill="#858585"/><rect x="823" y="595.6" width="20" height="1.7" fill="#858585"/><rect x="823" y="599.8" width="20" height="1.7" fill="#858585"/><rect x="823" y="604.0" width="20" height="1.7" fill="#858585"/><rect x="823" y="608.2" width="20" height="1.7" fill="#858585"/><rect x="823" y="612.4" width="20" height="1.7" fill="#858585"/><rect x="823" y="616.6" width="20" height="1.7" fill="#858585"/><rect x="823" y="620.8" width="20" height="1.7" fill="#858585"/><rect x="823" y="625.0" width="20" height="1.7" fill="#858585"/><rect x="823" y="629.2" width="20" height="1.7" fill="#858585"/><rect x="823" y="633.4" width="20" height="1.7" fill="#858585"/><rect x="823" y="637.6" width="20" height="1.7" fill="#858585"/></g>
<ellipse cx="812" cy="610" rx="14" ry="22" fill="#1b1b1b"/>
<ellipse cx="816" cy="612" rx="24.5" ry="31.5" fill="none" stroke="#6e6e6e" stroke-width="1.4"/>
<ellipse cx="811" cy="598" rx="6" ry="8" fill="#2a2a2a" stroke="#4a4a4a" stroke-width="1"/>
<path d="M785,643 L817,649 L817,658 L785,652 Z" fill="#161616" />
<path d="M853,617 L868,614 L868.5,628 L853,630 Z" fill="#8c8c8c" />
<path d="M752,619 L770,628 L762,632 L748,628 Z" fill="#8a8a8a" />
<path d="M746,554.3 L805,579.7 L794.8,710.4 L623.2,631.8 Z" fill="#555" fill-opacity="0.10"/>
<path d="M805,579.7 L869.6,562.1 L925.8,671.3 L794.8,710.4 Z" fill="#555" fill-opacity="0.08"/>
<path d="M601.25,630.5 L792.6,718.6 L792.6,724.87 L601.25,636.77 Z" fill="#a2a2a2" />
<path d="M601.25,635.12 L792.6,723.22 L792.6,724.87 L601.25,636.77 Z" fill="#c4c4c4" />
<path d="M601.25,636.77 L792.6,724.87 L792.6,730.15 L601.25,642.05 Z" fill="#888888" />
<path d="M601.25,642.05 L792.6,730.15 L792.6,735.1 L601.25,647.0 Z" fill="#6f6f6f" />
<path d="M792.6,718.6 L936.6,676.0 L936.6,682.118 L792.6,724.87 Z" fill="#a2a2a2" />
<path d="M792.6,723.22 L936.6,680.508 L936.6,682.118 L792.6,724.87 Z" fill="#c4c4c4" />
<path d="M792.6,724.87 L936.6,682.118 L936.6,687.27 L792.6,730.15 Z" fill="#888888" />
<path d="M792.6,730.15 L936.6,687.27 L936.6,692.1 L792.6,735.1 Z" fill="#6f6f6f" />
<path d="M913,683.5 L932,678 L932,684 L913,689.5 Z" fill="#4a4a4a" />
<path d="M915,684.5 L930,680.2 L930,682.5 L915,686.8 Z" fill="#7a7a7a" />
<path d="M795.5,720 L795.5,734.5" stroke="#d0d0d0" stroke-width="1.2"/>
<path d="M872,687 L898,699" stroke="#555" stroke-width="3" fill="none"/>
<circle cx="743.6" cy="705.0" r="1.6" fill="#151515"/>
<circle cx="748.3" cy="707.1" r="1.6" fill="#151515"/>
<circle cx="753.0" cy="709.2" r="1.6" fill="#151515"/>
<circle cx="757.7" cy="711.4" r="1.6" fill="#151515"/>
<circle cx="762.4" cy="713.5" r="1.6" fill="#151515"/>
<circle cx="767.1" cy="715.6" r="1.6" fill="#151515"/>
<circle cx="771.8" cy="717.7" r="1.6" fill="#151515"/>
<path d="M746.2,400.3 L805,425.8 L805,579.7 L746,554.3 Z" fill="#939393" />
<path d="M805,425.8 L868.5,407.8 L869.6,562.1 L805,579.7 Z" fill="#bbbbbb" />
<path d="M746.2,307.3 L809.7,288.5 L809.7,334 L805,334 Z" fill="#c3c3c3" />
<path d="M809.7,288.5 L813,290 L813,332 L809.7,333 Z" fill="#e0e0e0" />
<path d="M746.2,307.3 L805,334 L805,425.8 L746.2,400.3 Z" fill="#959595" />
<path d="M805,334 L867.2,314.9 L868.5,316 L868.5,407.8 L805,425.8 Z" fill="#bcbcbc" />
<rect x="783.8" y="344" width="21.2" height="175" fill="#686868"/>
<rect x="805" y="344" width="40" height="175" fill="#777777"/><rect x="806" y="344" width="8" height="175" fill="#6c6c6c"/>
<path d="M784,352.0 Q814.5,359.0 845,352.0 M784,353.5 Q814.5,346.5 845,353.5 M784,355.1 Q814.5,362.1 845,355.1 M784,356.6 Q814.5,349.6 845,356.6 M784,358.2 Q814.5,365.2 845,358.2 M784,359.7 Q814.5,352.7 845,359.7 M784,361.3 Q814.5,368.3 845,361.3 M784,362.8 Q814.5,355.8 845,362.8 M784,364.4 Q814.5,371.4 845,364.4 M784,365.9 Q814.5,358.9 845,365.9 M784,367.5 Q814.5,374.5 845,367.5 M784,369.0 Q814.5,362.0 845,369.0 M784,370.6 Q814.5,377.6 845,370.6 M784,372.1 Q814.5,365.1 845,372.1 M784,373.7 Q814.5,380.7 845,373.7 M784,375.2 Q814.5,368.2 845,375.2 M784,376.8 Q814.5,383.8 845,376.8 M784,378.3 Q814.5,371.3 845,378.3 M784,379.9 Q814.5,386.9 845,379.9 M784,381.4 Q814.5,374.4 845,381.4 M784,383.0 Q814.5,390.0 845,383.0 M784,384.5 Q814.5,377.5 845,384.5 M784,386.1 Q814.5,393.1 845,386.1 M784,387.6 Q814.5,380.6 845,387.6 M784,389.2 Q814.5,396.2 845,389.2 M784,390.7 Q814.5,383.7 845,390.7 M784,392.3 Q814.5,399.3 845,392.3 M784,393.8 Q814.5,386.8 845,393.8 M784,395.4 Q814.5,402.4 845,395.4 M784,396.9 Q814.5,389.9 845,396.9 M784,398.5 Q814.5,405.5 845,398.5 M784,400.0 Q814.5,393.0 845,400.0 M784,401.6 Q814.5,408.6 845,401.6 M784,403.1 Q814.5,396.1 845,403.1 M784,404.7 Q814.5,411.7 845,404.7 M784,406.2 Q814.5,399.2 845,406.2 M784,407.8 Q814.5,414.8 845,407.8 M784,409.3 Q814.5,402.3 845,409.3 M784,410.9 Q814.5,417.9 845,410.9 M784,412.4 Q814.5,405.4 845,412.4 M784,414.0 Q814.5,421.0 845,414.0 M784,415.5 Q814.5,408.5 845,415.5 M784,417.1 Q814.5,424.1 845,417.1 M784,418.6 Q814.5,411.6 845,418.6 M784,420.2 Q814.5,427.2 845,420.2 M784,421.7 Q814.5,414.7 845,421.7 M784,423.3 Q814.5,430.3 845,423.3 M784,424.8 Q814.5,417.8 845,424.8 M784,426.4 Q814.5,433.4 845,426.4 M784,427.9 Q814.5,420.9 845,427.9 M784,429.5 Q814.5,436.5 845,429.5 M784,431.0 Q814.5,424.0 845,431.0 M784,432.6 Q814.5,439.6 845,432.6 M784,434.1 Q814.5,427.1 845,434.1 M784,435.7 Q814.5,442.7 845,435.7 M784,437.2 Q814.5,430.2 845,437.2 M784,438.8 Q814.5,445.8 845,438.8 M784,440.3 Q814.5,433.3 845,440.3 M784,441.9 Q814.5,448.9 845,441.9 M784,443.4 Q814.5,436.4 845,443.4 M784,445.0 Q814.5,452.0 845,445.0 M784,446.5 Q814.5,439.5 845,446.5 M784,448.1 Q814.5,455.1 845,448.1 M784,449.6 Q814.5,442.6 845,449.6 M784,451.2 Q814.5,458.2 845,451.2 M784,452.7 Q814.5,445.7 845,452.7 M784,454.3 Q814.5,461.3 845,454.3 M784,455.8 Q814.5,448.8 845,455.8 M784,457.4 Q814.5,464.4 845,457.4 M784,458.9 Q814.5,451.9 845,458.9 M784,460.5 Q814.5,467.5 845,460.5 M784,462.0 Q814.5,455.0 845,462.0 M784,463.6 Q814.5,470.6 845,463.6 M784,465.1 Q814.5,458.1 845,465.1 M784,466.7 Q814.5,473.7 845,466.7 M784,468.2 Q814.5,461.2 845,468.2 M784,469.8 Q814.5,476.8 845,469.8 M784,471.3 Q814.5,464.3 845,471.3 M784,472.9 Q814.5,479.9 845,472.9 M784,474.4 Q814.5,467.4 845,474.4 M784,476.0 Q814.5,483.0 845,476.0 M784,477.5 Q814.5,470.5 845,477.5 M784,479.1 Q814.5,486.1 845,479.1 M784,480.6 Q814.5,473.6 845,480.6 M784,482.2 Q814.5,489.2 845,482.2 M784,483.7 Q814.5,476.7 845,483.7 M784,485.3 Q814.5,492.3 845,485.3 M784,486.8 Q814.5,479.8 845,486.8 M784,488.4 Q814.5,495.4 845,488.4 M784,489.9 Q814.5,482.9 845,489.9 M784,491.5 Q814.5,498.5 845,491.5 M784,493.0 Q814.5,486.0 845,493.0 M784,494.6 Q814.5,501.6 845,494.6 M784,496.1 Q814.5,489.1 845,496.1 M784,497.7 Q814.5,504.7 845,497.7 M784,499.2 Q814.5,492.2 845,499.2 M784,500.8 Q814.5,507.8 845,500.8 M784,502.3 Q814.5,495.3 845,502.3 M784,503.9 Q814.5,510.9 845,503.9 M784,505.4 Q814.5,498.4 845,505.4 M784,507.0 Q814.5,514.0 845,507.0 M784,508.5 Q814.5,501.5 845,508.5 M784,510.1 Q814.5,517.1 845,510.1 M784,511.6 Q814.5,504.6 845,511.6 M784,513.2 Q814.5,520.2 845,513.2 M784,514.7 Q814.5,507.7 845,514.7 M784,516.3 Q814.5,523.3 845,516.3 M784,517.8 Q814.5,510.8 845,517.8 M784,519.4 Q814.5,526.4 845,519.4 M784,520.9 Q814.5,513.9 845,520.9" fill="none" stroke="#404040" stroke-width="0.8"/>
<ellipse cx="814.4" cy="345" rx="30.6" ry="9" fill="#a3a3a3" stroke="#888" stroke-width="0.6"/>
<rect x="775.5" y="319.6" width="2.2" height="9.5" rx="1.1" fill="#2a2a2a"/>
<rect x="779.4" y="318.5" width="2.2" height="9.7" rx="1.1" fill="#2a2a2a"/>
<rect x="783.3" y="317.4" width="2.2" height="9.9" rx="1.1" fill="#2a2a2a"/>
<rect x="787.2" y="316.3" width="2.2" height="10.1" rx="1.1" fill="#2a2a2a"/>
<rect x="791.1" y="315.2" width="2.2" height="10.3" rx="1.1" fill="#2a2a2a"/>
<rect x="795.0" y="314.1" width="2.2" height="10.5" rx="1.1" fill="#2a2a2a"/>
<rect x="798.9" y="313.0" width="2.2" height="10.7" rx="1.1" fill="#2a2a2a"/>
<rect x="755.7" y="325.0" width="1.2" height="18.0" fill="#f0f0f0"/>
<rect x="759.3" y="325.0" width="1.2" height="17.0" fill="#f0f0f0"/>
<rect x="762.9" y="325.0" width="1.2" height="16.0" fill="#f0f0f0"/>
<rect x="766.5" y="325.0" width="1.2" height="15.0" fill="#f0f0f0"/>
<rect x="770.1" y="325.0" width="1.2" height="14.0" fill="#f0f0f0"/>
<rect x="773.7" y="325.0" width="1.2" height="13.0" fill="#f0f0f0"/>
<rect x="777.3" y="325.0" width="1.2" height="12.0" fill="#f0f0f0"/>
<rect x="780.9" y="325.0" width="1.2" height="11.0" fill="#f0f0f0"/>
<rect x="784.5" y="325.0" width="1.2" height="10.0" fill="#f0f0f0"/>
<rect x="788.1" y="325.0" width="1.2" height="9.0" fill="#f0f0f0"/>
<rect x="791.7" y="325.0" width="1.2" height="8.0" fill="#f0f0f0"/>
<rect x="815.2" y="352.5" width="2.6" height="18.4" rx="1.3" fill="none" stroke="#1e1e1e" stroke-width="1.1"/>
<rect x="819.1" y="351.3" width="2.6" height="18.5" rx="1.3" fill="none" stroke="#1e1e1e" stroke-width="1.1"/>
<rect x="823.0" y="350.1" width="2.6" height="18.5" rx="1.3" fill="none" stroke="#1e1e1e" stroke-width="1.1"/>
<rect x="826.9" y="349.0" width="2.6" height="18.6" rx="1.3" fill="none" stroke="#1e1e1e" stroke-width="1.1"/>
<rect x="830.8" y="347.8" width="2.6" height="18.6" rx="1.3" fill="none" stroke="#1e1e1e" stroke-width="1.1"/>
<rect x="834.7" y="346.6" width="2.6" height="18.7" rx="1.3" fill="none" stroke="#1e1e1e" stroke-width="1.1"/>
<rect x="838.6" y="345.4" width="2.6" height="18.8" rx="1.3" fill="none" stroke="#1e1e1e" stroke-width="1.1"/>
<rect x="842.5" y="344.2" width="2.6" height="18.8" rx="1.3" fill="none" stroke="#1e1e1e" stroke-width="1.1"/>
<rect x="846.4" y="343.1" width="2.6" height="18.9" rx="1.3" fill="none" stroke="#1e1e1e" stroke-width="1.1"/>
<rect x="850.3" y="341.9" width="2.6" height="18.9" rx="1.3" fill="none" stroke="#1e1e1e" stroke-width="1.1"/>
<rect x="854.2" y="340.7" width="2.6" height="19.0" rx="1.3" fill="none" stroke="#1e1e1e" stroke-width="1.1"/>
<rect x="858.1" y="339.5" width="2.6" height="19.1" rx="1.3" fill="none" stroke="#1e1e1e" stroke-width="1.1"/>
<path d="M746.2,545 L781,535 L846,535 L869,554.5 L805,560 Z" fill="#767676" />
<path d="M746.2,546 L805,560 L805,579.7 L746,554.3 Z" fill="#2c2c2c" />
<path d="M805,560 L869,554.5 L869.6,562.1 L805,579.7 Z" fill="#2c2c2c" />
<path d="M782.4,538 L846,538 L858,556 L805,566 L770,556 Z" fill="#4a4a4a" />
<path d="M782.4,524 L782.4,540 A31.8,9.5 0 0 0 846,540 L846,524 Z" fill="#1f1f1f"/>
<ellipse cx="814.2" cy="524" rx="31.8" ry="9.5" fill="#151515" stroke="#333" stroke-width="0.8"/>
<path d="M746.2,307.3 L809.7,288.5 L813,290 L813,333" fill="none" stroke="#111" stroke-width="1.8" stroke-linejoin="round"/>
<path d="M809.7,288.5 L809.7,333" fill="none" stroke="#111" stroke-width="1"/>
<path d="M746.2,307.3 L805,334 L867.2,314.9 L868.5,316 L869.6,562.1" fill="none" stroke="#111" stroke-width="1.8" stroke-linejoin="round"/>
<path d="M746.2,307.3 L746,554.3 M805,334 L805,579.7 L794.8,710.4" fill="none" stroke="#111" stroke-width="1.8" stroke-linejoin="round"/>
<path d="M746.2,400.3 L805,425.8 L868.5,407.8" fill="none" stroke="#111" stroke-width="1.8" stroke-linejoin="round"/>
<path d="M746,554.3 L805,579.7 L869.6,562.1 L925.8,671.3" fill="none" stroke="#111" stroke-width="1.8" stroke-linejoin="round"/>
<path d="M746,554.3 L623.2,631.8 L794.8,710.4 L925.8,671.3" fill="none" stroke="#111" stroke-width="1.8" stroke-linejoin="round"/>
<path d="M646.4,617.15 L601.25,630.5 L601.3,647 L792.6,735.1 L936.6,692.1 L936.6,676 L792.6,718.6 L601.25,630.5 M601.25,630.5 L623.2,631.8" fill="none" stroke="#111" stroke-width="1.8" stroke-linejoin="round"/>
<path d="M792.6,718.6 L792.6,735.1" fill="none" stroke="#111" stroke-width="1.8" stroke-linejoin="round"/>
<path d="M925.8,671.3 L936.6,676" fill="none" stroke="#111" stroke-width="1.8" stroke-linejoin="round"/>
<circle cx="807" cy="292.6" r="1" fill="#222"/><circle cx="866.2" cy="319.8" r="1" fill="#222"/>
<path d="M708.6,291 L770.3,271.1 M708.6,291 L746.2,307.3 M770.3,271.1 L809.7,288.5" fill="none" stroke="#333" stroke-width="0.9"/>
<path d="M708.6,291.0 L713.8,287.6 L714.8,290.7 Z" fill="#222"/><path d="M770.3,271.1 L765.1,274.5 L764.1,271.4 Z" fill="#222"/>
<path d="M704.6,322.1 L763.8,347.9 M704.6,322.1 L746.2,307.3 M763.8,347.9 L805,334" fill="none" stroke="#333" stroke-width="0.9"/>
<path d="M704.6,322.1 L710.7,323.0 L709.5,326.0 Z" fill="#222"/><path d="M763.8,347.9 L757.7,347.0 L758.9,344.0 Z" fill="#222"/>
<path d="M906.9,332.3 L906.9,580 M867.3,313.2 L906.9,332.3 M871.7,564 L974.8,610.4" fill="none" stroke="#333" stroke-width="0.9"/>
<path d="M906.9,332.3 L908.5,338.3 L905.3,338.3 Z" fill="#222"/><path d="M906.9,580.0 L905.3,574.0 L908.5,574.0 Z" fill="#222"/>
<path d="M974.8,610.4 L974.8,711 M936.6,692.1 L974.8,711 M974.8,711 L832.4,753.4 M792.6,735.1 L832.4,753.4" fill="none" stroke="#333" stroke-width="0.9"/>
<path d="M974.8,610.4 L976.4,616.4 L973.2,616.4 Z" fill="#222"/><path d="M974.8,711.0 L973.2,705.0 L976.4,705.0 Z" fill="#222"/><path d="M974.8,711.0 L969.5,714.2 L968.6,711.2 Z" fill="#222"/><path d="M832.4,753.4 L837.7,750.2 L838.6,753.2 Z" fill="#222"/>
<path d="M560.7,661.7 L751.9,749.3 M560.7,661.7 L601.3,647 M751.9,749.3 L792.6,735.1" fill="none" stroke="#333" stroke-width="0.9"/>
<path d="M560.7,661.7 L566.8,662.7 L565.5,665.7 Z" fill="#222"/><path d="M751.9,749.3 L745.8,748.3 L747.1,745.3 Z" fill="#222"/>
<text class="dm" x="725.6" y="278.2" font-size="25" textLength="14" lengthAdjust="spacingAndGlyphs">8</text><text class="dm" x="739.5" y="273.5" font-size="24">″</text>
<text class="dm" font-size="26" transform="translate(696.8,342.3) rotate(25)">9.2″</text>
<text class="dm" font-size="30" textLength="34" lengthAdjust="spacingAndGlyphs" transform="translate(918,388.5) rotate(90)">16″</text>
<text class="dm" font-size="30" textLength="33" lengthAdjust="spacingAndGlyphs" transform="translate(918,498.5) rotate(90)">16″</text>
<text class="dm" font-size="31" textLength="55.5" lengthAdjust="spacingAndGlyphs" transform="translate(980,637.5) rotate(90)">10.5″</text>
<text class="dm" font-size="32" textLength="125" lengthAdjust="spacingAndGlyphs" transform="matrix(0.909,0.416,-0.5,0.866,589,711)">30″ /36″</text>
<text class="dm" font-size="23" textLength="142" lengthAdjust="spacingAndGlyphs" transform="matrix(0.959,-0.284,0.42,0.907,838.5,787)">17.75″ / 19.25</text>
</svg></body></html>
